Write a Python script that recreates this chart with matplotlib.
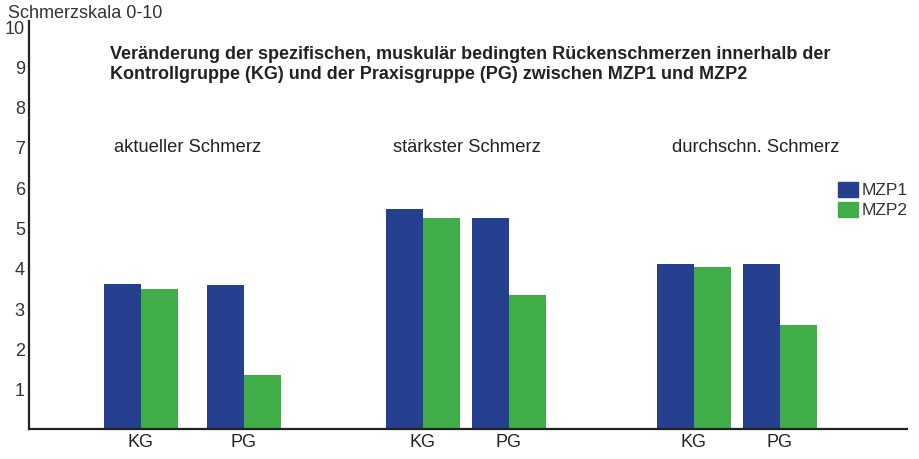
import matplotlib
matplotlib.use("Agg")
import matplotlib.pyplot as plt
from matplotlib.patches import Rectangle

# ---- data ----
categories = ["aktueller Schmerz", "stärkster Schmerz", "durchschn. Schmerz"]
groups = ["KG", "PG"]
series = ["MZP1", "MZP2"]
mzp1 = [3.60, 3.57, 5.46, 5.24, 4.09, 4.09]
mzp2 = [3.47, 1.34, 5.24, 3.33, 4.02, 2.58]
yticks = [1, 2, 3, 4, 5, 6, 7, 8, 9, 10]
ylabel = "Schmerzskala 0-10"
title = ("Veränderung der spezifischen, muskulär bedingten Rückenschmerzen innerhalb der\n"
         "Kontrollgruppe (KG) und der Praxisgruppe (PG) zwischen MZP1 und MZP2")

# ---- layout (pixel based) ----
W, H = 920, 460
plt.rcParams['font.family'] = ['Liberation Sans', 'DejaVu Sans']
BLUE = "#25408f"
GREEN = "#41ad49"
TXT = "#222222"

fig = plt.figure(figsize=(W / 100, H / 100), dpi=100)
ax_left, ax_right, ax_bottom, ax_top = 29, 907, 430, 22
ax = fig.add_axes([ax_left / W, (H - ax_bottom) / H,
                   (ax_right - ax_left) / W, (ax_bottom - ax_top) / H])
ax.set_xlim(ax_left, ax_right)
px_per_unit = (430 - 27) / 10
ax.set_ylim(0, (ax_bottom - ax_top) / px_per_unit)

pair_centers = [141, 244, 423, 509, 694, 780]
bw = 37
ax.bar([c - bw / 2 for c in pair_centers], mzp1, width=bw, color=BLUE, label=series[0])
ax.bar([c + bw / 2 for c in pair_centers], mzp2, width=bw, color=GREEN, label=series[1])

for s in ["top", "right"]:
    ax.spines[s].set_visible(False)
for s in ["left", "bottom"]:
    ax.spines[s].set_linewidth(1.6)
    ax.spines[s].set_color(TXT)

ax.set_yticks(yticks)
ax.set_yticklabels([str(t) for t in yticks], fontsize=13, color="#333333")
ax.tick_params(axis="y", length=0, pad=3)
ax.set_xticks(pair_centers)
ax.set_xticklabels(groups * len(categories), fontsize=13, color=TXT)
ax.tick_params(axis="x", length=0, pad=3)

def ftext(x, y, s, **kw):
    fig.text(x / W, 1 - y / H, s, **kw)

ftext(8, 13, ylabel, fontsize=13, color="#333333", va="center", ha="left")
ftext(110, 64.5, title, fontsize=13, fontweight="bold", color=TXT,
      va="center", ha="left", linespacing=1.3)

cat_centers = [188, 467, 756]
for c, name in zip(cat_centers, categories):
    ftext(c, 148, name, fontsize=13.2, color=TXT, va="center", ha="center")

# legend
leg_y = [190.5, 210.5]
for yy, name, col in zip(leg_y, series, [BLUE, GREEN]):
    fig.patches.append(Rectangle(((838) / W, 1 - (yy + 7.5) / H), 20 / W, 15 / H,
                                 transform=fig.transFigure, color=col))
    ftext(862, yy, name, fontsize=12.5, color="#333333", va="center", ha="left")

fig.savefig("out.png", dpi=100)
